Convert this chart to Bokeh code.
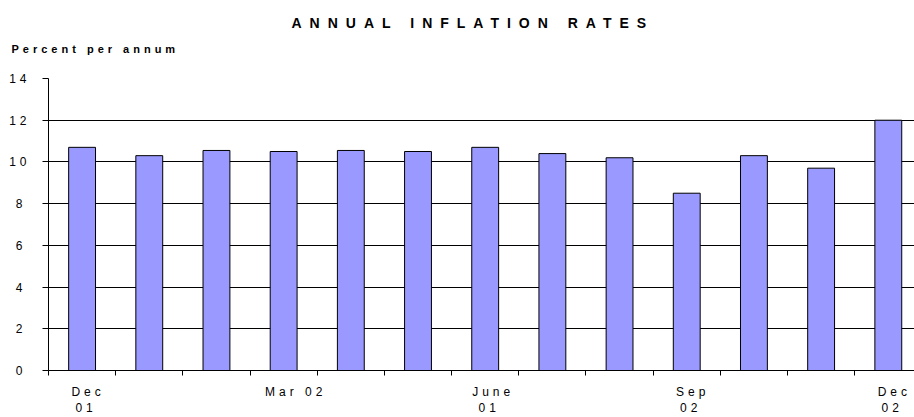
from bokeh.plotting import figure
from bokeh.models import (Range1d, FixedTicker, Title, LinearAxis, ColumnDataSource,
                          CustomJS)
from bokeh.document import Document
from bokeh.embed import file_html
from bokeh.resources import INLINE

# ---- data ----
months = ["Dec 01", "Jan 02", "Feb 02", "Mar 02", "Apr 02", "May 02", "Jun 02",
          "Jul 02", "Aug 02", "Sep 02", "Oct 02", "Nov 02", "Dec 02"]
rates = [10.7, 10.3, 10.55, 10.5, 10.55, 10.5, 10.7, 10.4, 10.2, 8.5, 10.3, 9.7, 12.0]
label_index = [0, 3, 6, 9, 12]
label_text = ["Dec\n01", "Mar 02", "June\n01", "Sep\n02", "Dec\n02"]
y_ticks = [0, 2, 4, 6, 8, 10, 12, 14]
title_text = "ANNUAL INFLATION RATES"
ylabel_text = "Percent per annum"

FONT = "Liberation Sans"

x = [i + 0.5 for i in range(len(months))]
src = ColumnDataSource(dict(x=x, rate=rates, month=months))

p = figure(width=914, height=417,
           x_range=Range1d(0, 12.89), y_range=Range1d(0, 14),
           output_backend="svg", toolbar_location=None,
           min_border_left=48, min_border_right=0, min_border_bottom=47, min_border_top=78)
p.title.visible = False

# bottom (category) axis
xa = p.below[0]
xa.ticker = FixedTicker(ticks=[i + 0.5 for i in label_index],
                        minor_ticks=list(range(len(months) + 1)))
xa.major_label_overrides = {i + 0.5: t for i, t in zip(label_index, label_text)}
xa.major_tick_line_color = None
xa.major_tick_out = 5
xa.major_tick_in = 0
xa.minor_tick_line_color = "black"
xa.minor_tick_out = 5
xa.minor_tick_in = 0
xa.axis_line_color = "black"
xa.major_label_standoff = 9
xa.major_label_text_font = FONT
xa.major_label_text_font_size = "12px"
xa.major_label_text_color = "black"
xa.major_label_text_line_height = 1.15

# left axis
ya = p.left[0]
ya.ticker = FixedTicker(ticks=y_ticks)
ya.minor_tick_line_color = None
ya.major_tick_out = 6
ya.major_tick_in = 0
ya.major_tick_line_color = "black"
ya.axis_line_color = "black"
ya.major_label_standoff = 20
ya.major_label_text_font = FONT
ya.major_label_text_font_size = "12px"
ya.major_label_text_color = "black"

# invisible spacer (white tick in an empty area) between the frame and the heading
spacer_tick = len(months) - 0.5
spacer = LinearAxis(ticker=FixedTicker(ticks=[spacer_tick], minor_ticks=[]),
                    axis_line_color=None,
                    major_tick_line_color="white", minor_tick_line_color=None,
                    major_tick_out=24, major_tick_in=0, minor_tick_out=0,
                    major_label_standoff=0, major_label_text_font_size="0px",
                    major_label_text_color=None,
                    major_label_overrides={spacer_tick: ""})
p.add_layout(spacer, "above")

p.add_layout(Title(text=ylabel_text, align="left", offset=-37, standoff=0,
                   text_font=FONT, text_font_size="11px", text_font_style="bold",
                   text_color="black"), "above")
p.add_layout(Title(text=title_text, align="left", offset=243, standoff=20,
                   text_font=FONT, text_font_size="14px", text_font_style="bold",
                   text_color="black"), "above")

p.vbar(x="x", top="rate", bottom=0, width=0.4, source=src,
       fill_color="#9999FF", line_color="black", line_width=1)

p.outline_line_color = None
p.background_fill_color = "white"
p.border_fill_color = "white"

p.xgrid.visible = False
p.ygrid.ticker = FixedTicker(ticks=y_ticks)
p.ygrid.grid_line_color = "black"
p.ygrid.grid_line_width = 1

# letter-spacing as in the original (applied inside Bokeh's shadow roots)
JS = """
const css = 'text{letter-spacing:4px}text[font-size="14px"]{letter-spacing:8px}';
function walk(root) {
  for (const el of root.querySelectorAll('*')) {
    const sr = el.shadowRoot;
    if (sr) {
      if (!sr.querySelector('style[data-ls]')) {
        const s = document.createElement('style');
        s.setAttribute('data-ls', '1');
        s.textContent = css;
        sr.appendChild(s);
      }
      walk(sr);
    }
  }
}
walk(document);
setTimeout(() => walk(document), 30);
setTimeout(() => walk(document), 200);
"""
doc = Document()
doc.add_root(p)
doc.js_on_event("document_ready", CustomJS(code=JS))

open("out.html", "w").write(file_html(p, INLINE))
